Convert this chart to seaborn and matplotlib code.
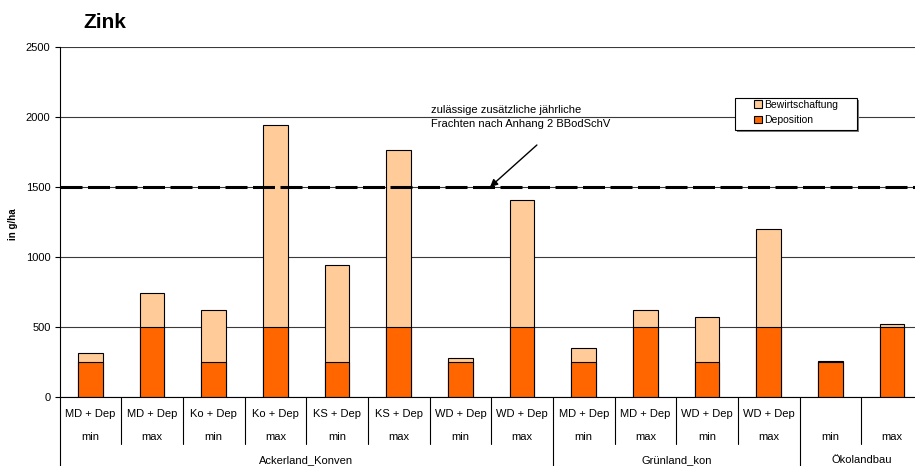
import matplotlib
matplotlib.use("Agg")
import matplotlib.pyplot as plt
from matplotlib.patches import Patch, Rectangle
import pandas as pd
import seaborn as sns

# --- data -------------------------------------------------------------
varianten = ["MD + Dep", "MD + Dep", "Ko + Dep", "Ko + Dep", "KS + Dep", "KS + Dep",
             "WD + Dep", "WD + Dep", "MD + Dep", "MD + Dep", "WD + Dep", "WD + Dep", "", ""]
stufen = ["min", "max"] * 7
gruppen = ["Ackerland_Konven", "Grünland_kon", "Ökolandbau"]
gruppen_anzahl = [8, 4, 2]
deposition = [250, 500, 250, 500, 250, 500, 250, 500, 250, 500, 250, 500, 250, 500]
bewirtschaftung = [65, 245, 370, 1440, 690, 1265, 30, 905, 100, 125, 325, 700, 7, 22]
grenzwert = 1500
y_ticks = [0, 500, 1000, 1500, 2000, 2500]

df = pd.DataFrame({
    "pos": range(len(varianten)),
    "deposition": deposition,
    "bewirtschaftung": bewirtschaftung,
})
df["gesamt"] = df["deposition"] + df["bewirtschaftung"]

FARBE_BEW = "#FFCC99"
FARBE_DEP = "#FF6600"

sns.set_style("white")
plt.rcParams["font.family"] = ["Liberation Sans", "DejaVu Sans"]
plt.rcParams["text.color"] = "black"
plt.rcParams["axes.labelcolor"] = "black"
plt.rcParams["xtick.color"] = "black"
plt.rcParams["ytick.color"] = "black"

W, H = 915, 466
fig = plt.figure(figsize=(W / 100, H / 100), dpi=100)
ax = fig.add_axes([59.5 / W, 69 / H, 863.5 / W, 350 / H])

# stacked bars: full height first, deposition drawn over the lower part
sns.barplot(data=df, x="pos", y="gesamt", color=FARBE_BEW, saturation=1, width=0.4,
            edgecolor="black", linewidth=0.8, errorbar=None, ax=ax)
sns.barplot(data=df, x="pos", y="deposition", color=FARBE_DEP, saturation=1, width=0.4,
            edgecolor="black", linewidth=0.8, errorbar=None, ax=ax)

ax.set_xlim(-0.5, len(varianten) - 0.5)
ax.set_ylim(0, 2500)
ax.set_yticks(y_ticks)
ax.yaxis.grid(True, color="#3a3a3a", lw=0.8)
ax.set_axisbelow(True)
ax.tick_params(axis="y", left=True, length=3.5, width=0.8, pad=3, labelsize=8,
               direction="out", color="black", labelcolor="black")
ax.tick_params(axis="x", length=0, labelbottom=False)
ax.set_xlabel("")
ax.set_ylabel("")
for s in ["top", "right"]:
    ax.spines[s].set_visible(False)
for s in ["left", "bottom"]:
    ax.spines[s].set_color("black")
    ax.spines[s].set_linewidth(0.8)

# limit line
ax.axhline(grenzwert, color="black", lw=2.2, linestyle=(0, (7.2, 1.8)), zorder=4)
ax.text(5.52, 2000, "zulässige zusätzliche jährliche\nFrachten nach Anhang 2 BBodSchV",
        fontsize=8, ha="left", va="center", linespacing=1.5, zorder=5, color="black")
ax.annotate("", xy=(6.48, grenzwert), xytext=(7.24, 1800),
            arrowprops=dict(arrowstyle="-|>", color="black", lw=1, mutation_scale=11,
                            shrinkA=0, shrinkB=0), zorder=5)

# category table below the axis
xt = ax.get_xaxis_transform()
for i, (v, s) in enumerate(zip(varianten, stufen)):
    ax.text(i, -0.049, v, transform=xt, ha="center", va="center", fontsize=8, clip_on=False)
    ax.text(i, -0.115, s, transform=xt, ha="center", va="center", fontsize=8, clip_on=False)

grenzen = [-0.5]
start = 0
for g, n in zip(gruppen, gruppen_anzahl):
    ax.text(start + (n - 1) / 2, -0.18, g, transform=xt, ha="center", va="center",
            fontsize=8, clip_on=False)
    start += n
    grenzen.append(start - 0.5)

for k in range(len(varianten) + 1):
    xb = k - 0.5
    unten = -0.197 if xb in grenzen else -0.134
    ax.plot([xb, xb], [0, unten], transform=xt, color="black", lw=0.8, clip_on=False)

# legend with framed box
lx0, ly0, lx1, ly1 = 735, 98, 857, 130
fig.add_artist(Rectangle(((lx0 + 1.5) / W, 1 - (ly1 + 1.5) / H), (lx1 - lx0) / W, (ly1 - ly0) / H,
                         transform=fig.transFigure, facecolor="#7a7a7a", edgecolor="none",
                         zorder=5))
fig.add_artist(Rectangle((lx0 / W, 1 - ly1 / H), (lx1 - lx0) / W, (ly1 - ly0) / H,
                         transform=fig.transFigure, facecolor="white", edgecolor="black",
                         lw=0.8, zorder=6))
handles = [Patch(facecolor=FARBE_BEW, edgecolor="black", lw=0.8, label="Bewirtschaftung"),
           Patch(facecolor=FARBE_DEP, edgecolor="black", lw=0.8, label="Deposition")]
leg = fig.legend(handles=handles, loc="upper left", bbox_to_anchor=(754 / W, 1 - 99.5 / H),
                 bbox_transform=fig.transFigure, frameon=False, fontsize=7.5,
                 handlelength=0.75, handleheight=0.75, handletextpad=0.25,
                 labelspacing=0.55, borderpad=0, borderaxespad=0)
leg.set_zorder(7)

# titles
fig.text(83 / W, 1 - 28.3 / H, "Zink", fontsize=15, fontweight="bold", ha="left",
         va="baseline", color="black")
fig.text(13 / W, 1 - 224 / H, "in g/ha", fontsize=7, fontweight="bold", rotation=90,
         ha="center", va="center", color="black")

fig.savefig("out.png", dpi=100)
